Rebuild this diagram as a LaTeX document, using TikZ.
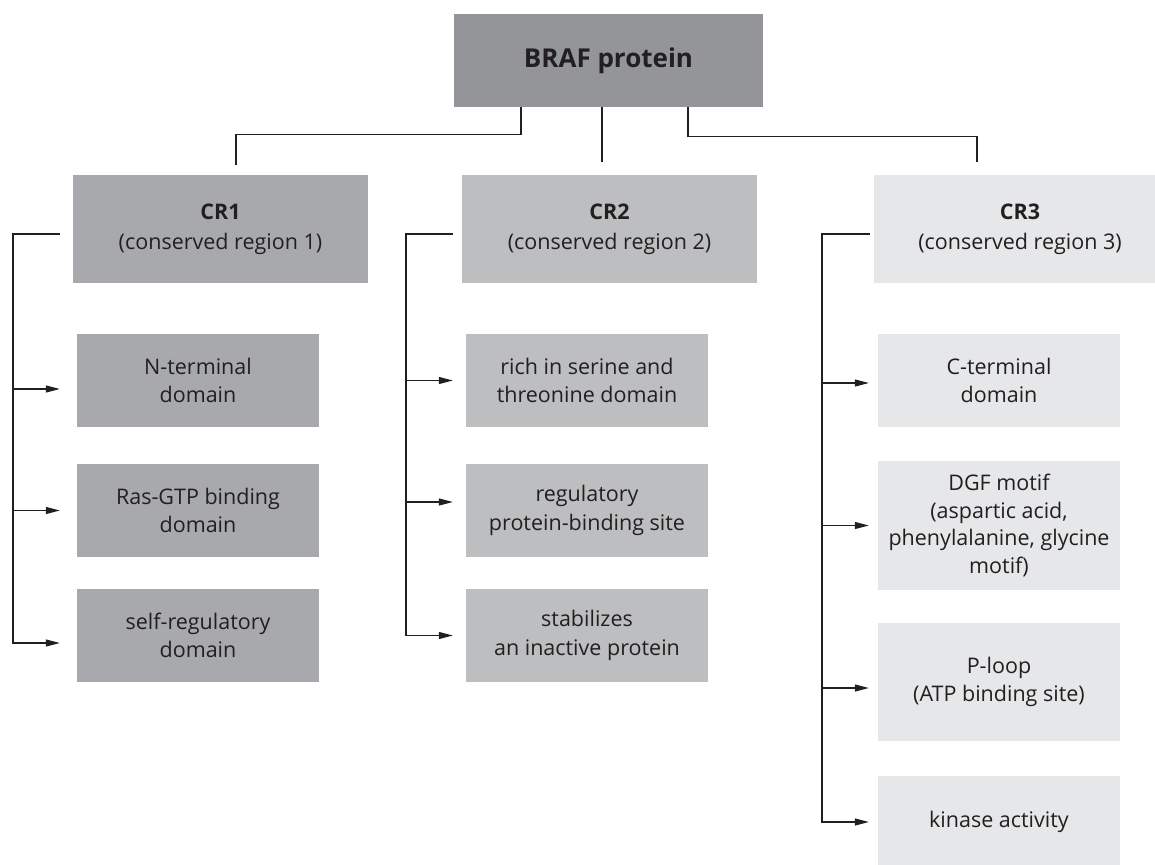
\documentclass[tikz,border=0pt]{standalone}
\usepackage{fontspec}
\setmainfont{Open Sans}
\usetikzlibrary{arrows.meta}
\definecolor{cA}{HTML}{939598}
\definecolor{cB}{HTML}{A7A9AC}
\definecolor{cC}{HTML}{BCBEC0}
\definecolor{cD}{HTML}{E6E7E8}
\definecolor{ink}{HTML}{231F20}
\tikzset{
  box/.style={rectangle, inner sep=0pt, align=center, text=ink,
    font=\fontsize{21.5}{28.5}\selectfont, minimum width=242pt, minimum height=93pt},
  head/.style={box, font=\fontsize{21.5}{30}\selectfont, minimum width=295pt, minimum height=108pt},
  link/.style={draw=ink, line width=1.2pt},
  arr/.style={link, -{Triangle[length=14pt,width=7pt]}},
}
\begin{document}
\begin{tikzpicture}[x=1pt,y=-1pt]
\useasboundingbox (0,0) rectangle (1155,864);
% top
\node[box, fill=cA, minimum width=309pt, minimum height=93pt,
  font=\bfseries\fontsize{26}{32}\selectfont] (braf) at (608.5,60.5) {BRAF protein};
% headers
\node[head, fill=cB] (cr1) at (220.5,229) {\textbf{CR1}\\(conserved region 1)};
\node[head, fill=cC] (cr2) at (609.5,229) {\textbf{CR2}\\(conserved region 2)};
\node[head, fill=cD, minimum width=292pt] (cr3) at (1020,229) {\textbf{CR3}\\(conserved region 3)};
% column 1
\node[box, fill=cB] (n11) at (198,380.5) {N-terminal\\domain};
\node[box, fill=cB] (n12) at (198,510.5) {Ras-GTP binding\\domain};
\node[box, fill=cB] (n13) at (198,635.5) {self-regulatory\\domain};
% column 2
\node[box, fill=cC] (n21) at (587,380.5) {rich in serine and\\threonine domain};
\node[box, fill=cC] (n22) at (587,510.5) {regulatory\\protein-binding site};
\node[box, fill=cC] (n23) at (587,635.5) {stabilizes\\an inactive protein};
% column 3
\node[box, fill=cD] (n31) at (999,380.5) {C-terminal\\domain};
\node[box, fill=cD, minimum height=129pt, font=\fontsize{21.5}{27.5}\selectfont] (n32) at (999,525.5) {DGF motif\\(aspartic acid,\\phenylalanine, glycine\\motif)};
\node[box, fill=cD, minimum height=118pt] (n33) at (999,682) {P-loop\\(ATP binding site)};
\node[box, fill=cD, minimum height=92pt] (n34) at (999,822) {kinase activity};
% connectors from the top box
\coordinate (t1) at (236,165);
\coordinate (t2) at (602,162);
\coordinate (t3) at (977,162);
\draw[link] ([xshift=-87.5pt]braf.south) -- ++(0,27) -| (t1);
\draw[link] ([xshift=-6.5pt]braf.south) -- (t2);
\draw[link] ([xshift=79.5pt]braf.south) -- ++(0,29) -| (t3);
% spines
\coordinate (sp1) at (13,0);
\coordinate (sp2) at (406,0);
\coordinate (sp3) at (822,0);
\coordinate (h1) at ([xshift=-13pt,yshift=-5pt]cr1.west);
\coordinate (h2) at ([xshift=-9pt,yshift=-5pt]cr2.west);
\coordinate (h3) at ([xshift=-4pt,yshift=-5pt]cr3.west);
\coordinate (e11) at ([xshift=-17pt,yshift=-8.5pt]n11.west);
\coordinate (e12) at ([xshift=-17pt]n12.west);
\coordinate (e13) at ([xshift=-17pt,yshift=-7.5pt]n13.west);
\coordinate (e21) at ([xshift=-13pt]n21.west);
\coordinate (e22) at ([xshift=-13pt,yshift=8.5pt]n22.west);
\coordinate (e23) at ([xshift=-13pt]n23.west);
\coordinate (e31) at ([xshift=-9pt,yshift=-2.5pt]n31.west);
\coordinate (e32) at ([xshift=-9pt]n32.west);
\coordinate (e33) at ([xshift=-9pt,yshift=-6pt]n33.west);
\coordinate (e34) at ([xshift=-9pt]n34.west);
\draw[arr] (h1) -| (e13 -| sp1) -- (e13);
\draw[arr] (e11 -| sp1) -- (e11);
\draw[arr] (e12 -| sp1) -- (e12);
\draw[arr] (h2) -| (e23 -| sp2) -- (e23);
\draw[arr] (e21 -| sp2) -- (e21);
\draw[arr] (e22 -| sp2) -- (e22);
\draw[arr] (h3) -| (e34 -| sp3) -- (e34);
\draw[arr] (e31 -| sp3) -- (e31);
\draw[arr] (e32 -| sp3) -- (e32);
\draw[arr] (e33 -| sp3) -- (e33);
\end{tikzpicture}
\end{document}
